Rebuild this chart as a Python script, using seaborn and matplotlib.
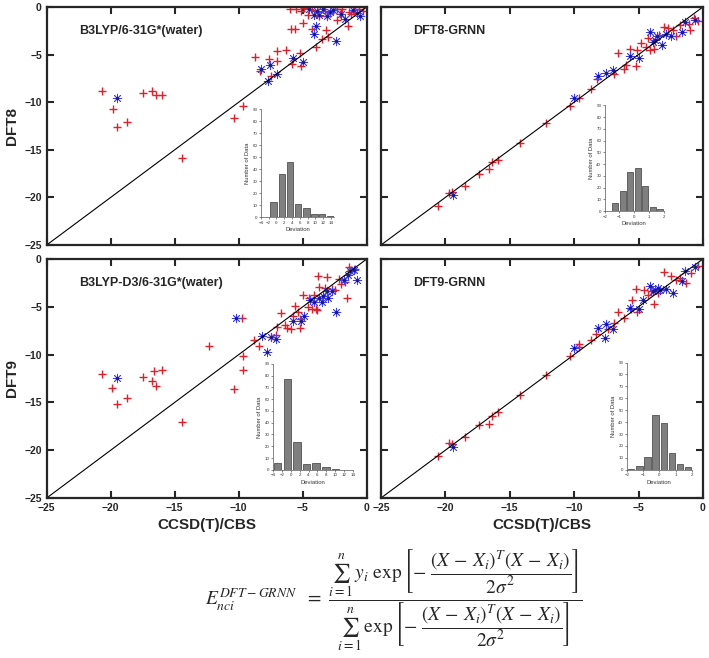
import numpy as np
import seaborn as sns
import matplotlib.pyplot as plt

# CCSD(T)/CBS reference vs DFT energies, red "+" and blue "*" groups per panel
b3lyp_red_x = [-20.7, -19.8, -19.5, -18.7, -17.5, -16.8, -16.5, -16.0, -14.4, -10.4, -9.7, -8.75,
               -8.35, -7.6, -7.5, -7.05, -7.0, -6.3, -5.9, -5.6, -5.84, -5.24, -5.1, -5.0, -4.28,
               -3.94, -3.5, -3.17, -2.99, -2.34, -1.49, -1.25, -6.0, -5.5, -5.1, -4.6, -4.3, -3.8,
               -3.7, -3.3, -2.9, -2.6, -2.1, -1.9, -1.4, -1.0, -0.6, -0.3, -4.9, -3.1, -2.3]
b3lyp_red_y = [-8.8, -10.7, -12.6, -12.1, -9.0, -8.8, -9.2, -9.2, -15.9, -11.7, -10.4, -5.25,
               -6.7, -5.5, -7.2, -4.65, -5.7, -4.5, -2.34, -2.34, -6.0, -4.8, -6.2, -1.7, -2.34,
               -4.2, -3.4, -2.45, -3.2, -1.4, -2.0, -0.7, -0.2, -0.2, -0.4, -0.8, -0.3, -0.5,
               -1.0, -0.4, -0.6, -0.3, -0.7, -0.2, -0.5, -0.3, -0.2, -0.4, -0.1, -0.9, -0.2]
b3lyp_blue_x = [-19.5, -8.25, -7.52, -7.05, -7.7, -5.76, -5.0, -3.97, -4.1, -2.42, -3.12, -1.69,
                -3.76, -4.15, -4.5, -3.9, -3.4, -2.9, -2.6, -1.1, -0.8, -0.5, -2.0]
b3lyp_blue_y = [-9.6, -6.47, -6.05, -7.06, -7.8, -5.35, -5.77, -2.0, -2.8, -3.6, -0.98, -1.3,
                -0.87, -0.87, -0.2, -0.4, -0.2, -0.5, -0.3, -0.3, -0.6, -0.9, -0.7]

d3_red_x = [-20.7, -19.9, -19.5, -18.7, -17.5, -16.8, -16.6, -16.45, -16.0, -14.4, -12.3, -10.4,
            -9.77, -9.7, -9.7, -8.8, -8.4, -7.5, -7.1, -7.0, -6.7, -6.4, -6.2, -5.9, -5.8, -5.6,
            -5.4, -5.2, -5.2, -5.0, -4.5, -4.3, -4.15, -3.9, -3.8, -3.1, -2.7, -2.5, -1.55, -1.4,
            -3.75, -1.7, -2.2, -4.6, -4.0, -3.3, -2.0, -1.2, -0.9]
d3_red_y = [-12.06, -13.5, -15.2, -14.5, -12.3, -12.75, -11.7, -13.3, -11.6, -17.1, -9.1, -13.6,
            -6.2, -10.2, -11.6, -8.5, -9.1, -8.2, -7.9, -7.1, -5.6, -6.9, -7.2, -7.35, -6.0, -4.9,
            -5.5, -7.2, -6.3, -3.76, -4.1, -5.2, -3.76, -5.3, -1.8, -1.85, -3.1, -3.2, -4.1, -0.8,
            -2.9, -2.4, -2.1, -5.0, -5.2, -3.0, -2.6, -1.2, -1.0]
d3_blue_x = [-19.5, -10.2, -8.2, -7.5, -7.1, -7.8, -5.75, -4.9, -5.1, -2.4, -4.15, -3.75, -3.4,
             -3.1, -3.0, -3.5, -1.8, -1.5, -1.3, -0.8, -4.4, -2.7, -1.0]
d3_blue_y = [-12.5, -6.2, -8.05, -8.2, -8.4, -9.75, -6.5, -6.0, -6.5, -5.5, -4.55, -4.1, -3.9,
             -3.4, -4.1, -4.45, -2.2, -1.7, -1.3, -2.2, -4.3, -3.3, -1.2]

grnn8_red_x = [-20.6, -19.75, -19.5, -18.5, -17.4, -16.6, -16.4, -15.9, -14.2, -12.2, -10.3, -9.65,
               -8.7, -8.2, -6.9, -6.6, -6.15, -6.0, -5.7, -5.2, -5.1, -4.4, -4.1, -3.8, -4.3, -3.0,
               -2.3, -2.1, -1.1, -0.7, -0.4, -1.0, -3.4, -2.7, -1.8, -4.8]
grnn8_red_y = [-20.9, -19.5, -19.4, -18.8, -17.5, -17.0, -16.3, -16.1, -14.3, -12.2, -10.4, -9.6,
               -8.6, -7.6, -7.0, -4.8, -6.5, -6.1, -4.4, -6.2, -4.5, -4.2, -4.5, -4.4, -3.3, -2.1,
               -2.4, -3.1, -1.75, -1.2, -1.5, -2.4, -2.9, -2.2, -1.9, -3.8]
grnn8_blue_x = [-19.4, -10.0, -8.15, -7.5, -7.0, -5.65, -5.0, -4.1, -3.7, -3.2, -2.9, -1.6, -1.4,
                -0.6, -3.6, -3.9, -2.5]
grnn8_blue_y = [-19.8, -9.6, -7.3, -6.9, -6.6, -5.1, -5.35, -2.6, -3.5, -4.0, -2.8, -2.6, -1.6,
                -1.4, -3.1, -3.7, -3.0]

grnn9_red_x = [-20.6, -19.75, -19.5, -18.5, -17.4, -16.6, -16.4, -15.9, -14.2, -12.2, -10.3, -9.6,
               -9.65, -8.7, -8.3, -7.4, -6.9, -6.6, -6.15, -5.6, -5.1, -5.5, -5.2, -4.6, -4.3, -3.8,
               -3.0, -2.5, -2.1, -1.3, -0.9, -0.4, -3.5, -4.0, -1.8]
grnn9_red_y = [-20.6, -19.3, -19.4, -18.6, -17.4, -17.3, -16.4, -16.0, -14.2, -12.1, -10.2, -9.2,
               -8.9, -8.5, -7.8, -7.3, -6.7, -5.5, -6.15, -5.2, -5.5, -4.3, -3.1, -3.25, -3.8, -4.7,
               -1.35, -1.8, -2.2, -2.5, -1.5, -0.7, -3.6, -3.4, -2.0]
grnn9_blue_x = [-19.4, -10.0, -8.15, -7.5, -7.6, -6.95, -5.7, -5.0, -4.65, -4.1, -3.7, -3.3, -2.9,
                -2.3, -1.6, -1.4, -0.6, -3.9, -3.5]
grnn9_blue_y = [-19.7, -9.3, -7.2, -6.8, -8.3, -7.3, -5.1, -5.2, -4.3, -2.85, -3.2, -3.2, -3.1,
                -3.6, -2.35, -1.3, -0.8, -3.4, -3.0]

# deviation histograms (bar centre, count)
hist_b3lyp_x = [-0.75, 1.4, 3.45, 5.6, 7.7, 9.75, 11.8, 13.9]
hist_b3lyp_n = [13, 36, 46, 11, 8, 3, 3, 1]
hist_d3_x = [-3.0, -0.8, 1.4, 3.55, 5.7, 7.9, 10.1]
hist_d3_n = [6, 77, 24, 5, 6, 2, 1]
hist_g8_x = [-1.3, -0.79, -0.27, 0.26, 0.76, 1.26, 1.74]
hist_g8_n = [7, 17, 33, 37, 21, 4, 2]
hist_g9_x = [-1.73, -1.22, -0.72, -0.23, 0.27, 0.76, 1.26, 1.77]
hist_g9_n = [1, 3, 11, 46, 39, 14, 5, 2]

sns.set_style("ticks")
plt.rcParams['font.family'] = ['Liberation Sans', 'DejaVu Sans']
plt.rcParams['mathtext.fontset'] = 'stix'

fig = plt.figure(figsize=(7.09, 6.58), dpi=100)

panels = [
    ([0.0659, 0.6277, 0.4514, 0.3617], "B3LYP/6-31G*(water)", b3lyp_red_x, b3lyp_red_y,
     b3lyp_blue_x, b3lyp_blue_y, "DFT8", False, True),
    ([0.5374, 0.6277, 0.4540, 0.3617], "DFT8-GRNN", grnn8_red_x, grnn8_red_y,
     grnn8_blue_x, grnn8_blue_y, None, False, False),
    ([0.0659, 0.2432, 0.4514, 0.3632], "B3LYP-D3/6-31G*(water)", d3_red_x, d3_red_y,
     d3_blue_x, d3_blue_y, "DFT9", True, True),
    ([0.5374, 0.2432, 0.4540, 0.3632], "DFT9-GRNN", grnn9_red_x, grnn9_red_y,
     grnn9_blue_x, grnn9_blue_y, None, True, False),
]

for rect, title, rx, ry, bx, by, ylab, show_x, show_y in panels:
    ax = fig.add_axes(rect)
    sns.lineplot(x=[-25, 0], y=[-25, 0], color='black', lw=0.8, ax=ax)
    sns.scatterplot(x=rx, y=ry, marker='+', color='#e0202c', s=40, linewidth=1.0, ax=ax)
    sns.scatterplot(x=bx, y=by, marker=(8, 2, 0), color='#4040f0', s=38, linewidth=0.6, ax=ax)
    sns.scatterplot(x=bx, y=by, marker='o', color='#1a1a8c', s=6, linewidth=0, ax=ax)
    ax.set_xlim(-25, 0)
    ax.set_ylim(-25, 0)
    ax.set_xticks([-25, -20, -15, -10, -5, 0])
    ax.set_yticks([-25, -20, -15, -10, -5, 0])
    ax.tick_params(direction='in', length=5, width=1.5, top=True, right=True,
                   labelbottom=show_x, labelleft=show_y, labelsize=7.5)
    for lbl in ax.get_xticklabels() + ax.get_yticklabels():
        lbl.set_fontweight('bold')
    for sp in ax.spines.values():
        sp.set_linewidth(1.6)
    ax.text(0.10, 0.90, title, transform=ax.transAxes, fontsize=9, fontweight='bold',
            va='center', ha='left')
    ax.set_xlabel("CCSD(T)/CBS" if show_x else "", fontsize=11, fontweight='bold', labelpad=4)
    ax.set_ylabel(ylab if ylab else "", fontsize=11, fontweight='bold', labelpad=4)

insets = [
    ([0.368, 0.670, 0.103, 0.164], hist_b3lyp_x, hist_b3lyp_n, (-4, 14.8), range(-4, 15, 2), 1.65),
    ([0.853, 0.679, 0.083, 0.161], hist_g8_x, hist_g8_n, (-2, 2), range(-2, 3), 0.40),
    ([0.385, 0.286, 0.113, 0.161], hist_d3_x, hist_d3_n, (-4, 14), range(-4, 15, 2), 1.65),
    ([0.884, 0.286, 0.092, 0.163], hist_g9_x, hist_g9_n, (-2, 2), range(-2, 3), 0.40),
]

for rect, hx, hn, xl, xt, w in insets:
    ia = fig.add_axes(rect)
    ia.bar(hx, hn, width=w, color='#7f7f7f', edgecolor='#3c3c3c', linewidth=0.5)
    ia.set_xlim(*xl)
    ia.set_ylim(0, 90)
    ia.set_xticks(list(xt))
    ia.set_yticks(range(0, 91, 10))
    ia.tick_params(length=1.5, width=0.4, labelsize=3.2, pad=1, colors='#333333')
    for s in ['top', 'right']:
        ia.spines[s].set_visible(False)
    for s in ['left', 'bottom']:
        ia.spines[s].set_linewidth(0.5)
        ia.spines[s].set_color('#555555')
    ia.set_xlabel("Deviation", fontsize=4.2, labelpad=2, color='#333333')
    ia.set_ylabel("Number of Data", fontsize=4.2, labelpad=2, color='#333333')
    ia.patch.set_alpha(0)

eq = (r'$E_{nci}^{DFT-GRNN}\ \ =\ \dfrac{\sum_{i=1}^{n}\, y_i\ \exp\left[-\ \dfrac{(X\,-\,X_i)^T(X\,-\,X_i)}{2\sigma^2}\right]}'
      r'{\sum_{i=1}^{n}\, \exp\left[-\ \dfrac{(X\,-\,X_i)^T(X\,-\,X_i)}{2\sigma^2}\right]}$')
fig.text(0.555, 0.088, eq, fontsize=14, ha='center', va='center')

fig.savefig('out.png', dpi=100)
